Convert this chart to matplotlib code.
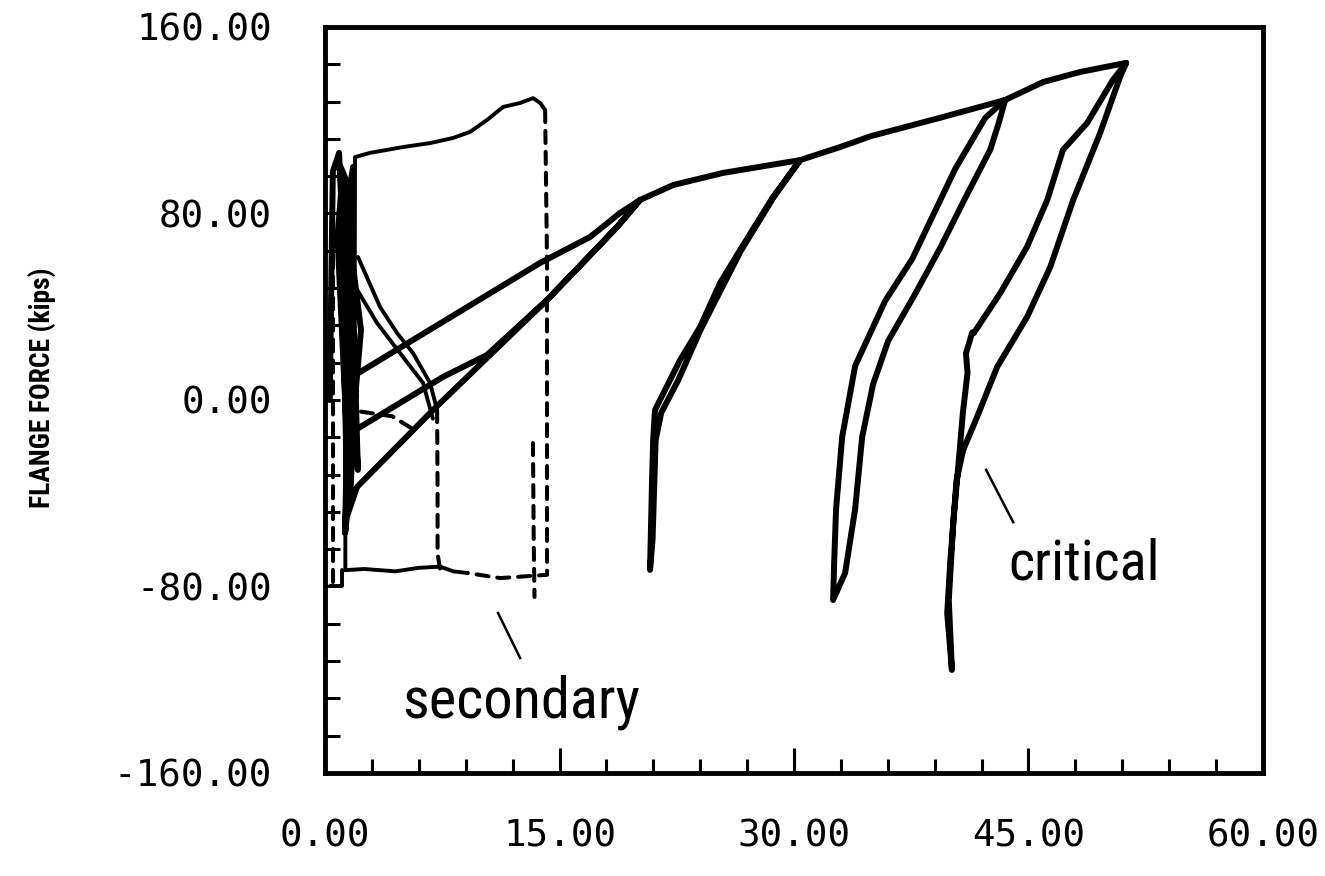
import matplotlib
matplotlib.use("Agg")
import matplotlib.pyplot as plt
from matplotlib.ticker import MultipleLocator
from matplotlib import font_manager
from matplotlib.font_manager import FontProperties

# ---------------- data ----------------
x_ticks = [0, 15, 30, 45, 60]
x_tick_labels = ["0.00", "15.00", "30.00", "45.00", "60.00"]
y_ticks = [-160, -80, 0, 80, 160]
y_tick_labels = ["-160.00", "-80.00", "0.00", "80.00", "160.00"]
y_label = "FLANGE FORCE (kips)"

# critical element (thick solid curve)
crit_x = [0.3, 0.5, 0.9, 1.2, 1.5, 1.28, 1.7, 1.3, 1.8, 1.5, 2.1, 1.6, 1.0, 1.4, 2.3, 1.1, 0.8, 1.6, 1.92,
          13.76, 16.95, 18.87, 20.15,
          18.68, 15.87, 14.2, 6.91, 2.05, 1.4, 1.28,
          1.41, 7.55, 10.36, 14.2, 15.87, 18.68, 20.15,
          22.27, 25.46, 30.39,
          28.66, 26.55, 25.27, 23.99, 22.71, 21.43, 21.11, 20.99, 20.92, 20.79,
          20.95, 21.15, 21.5, 22.6, 24.05, 26.6, 28.7, 30.39,
          32.95, 34.93, 39.54, 43.51,
          43.06, 42.55, 40.95, 39.35, 37.75, 36.02, 35.06, 34.36, 33.91, 33.27, 32.5,
          32.57, 32.69, 33.08, 33.91, 35.83, 37.56, 40.31, 42.23, 43.51,
          45.94, 48.3, 51.25,
          50.86, 49.58, 47.86, 46.39, 44.91, 42.99, 41.71, 40.82, 40.4, 39.99, 39.8, 40.1,
          39.9, 40.2, 40.6, 40.8, 41.1, 41.0, 41.4, 41.5, 43.2, 44.9, 46.2, 47.2, 48.75, 50.4, 51.25]
crit_y = [0.0, 98.0, 106.0, 60.0, -20.0, -57.0, -10.0, 80.0, 100.0, 45.0, -30.0, 90.0, 100.0, -40.0, 30.0, 95.0, 70.0, -45.0, 10.7,
          58.8, 69.9, 80.2, 85.8,
          74.2, 54.5, 42.9, -4.3, -37.3, -50.0, -57.0,
          -15.0, 9.9, 19.3, 42.9, 54.5, 74.2, 85.8,
          92.2, 97.4, 102.9,
          87.1, 64.3, 50.2, 31.3, 17.1, 0.0, -4.3, -17.2, -34.3, -72.9,
          -60.1, -17.2, -5.6, 8.6, 30.5, 64.0, 87.0, 102.9,
          108.5, 113.2, 121.4, 128.7,
          118.0, 107.3, 86.6, 65.2, 45.5, 25.3, 6.8, -15.9, -46.8, -74.2, -85.8,
          -69.5, -46.8, -15.9, 14.6, 42.5, 60.5, 99.1, 121.0, 128.7,
          136.4, 140.7, 144.6,
          138.6, 114.5, 85.8, 57.0, 35.6, 14.1, -7.3, -21.5, -34.3, -69.9, -91.4, -115.8,
          -85.8, -51.5, -21.5, -5.6, 11.6, 20.0, 29.0, 28.7, 45.9, 65.6, 85.8, 107.2, 118.8, 137.3, 144.6]

# secondary element: solid (thin) portions
sec_top_x = [1.3, 1.3, 1.6, 1.9, 1.92, 2.88, 4.99, 6.72, 8.19, 9.28, 10.36, 11.39, 12.48, 13.31, 13.76, 14.08]
sec_top_y = [-73.0, -50.0, 0.0, 50.0, 104.2, 106.0, 108.5, 110.2, 112.4, 115.0, 120.1, 125.7, 127.4, 129.5, 127.4, 124.4]
sec_bottom_x = [1.3, 2.5, 4.5, 6.0, 7.36, 8.2, 9.1]
sec_bottom_y = [-73.0, -72.5, -73.5, -72.0, -71.5, -73.5, -74.2]
sec_desc1_x = [2.11, 3.52, 4.61, 5.63, 6.72, 7.17]
sec_desc1_y = [61.3, 39.9, 28.7, 20.1, 7.3, -4.3]
sec_desc2_x = [1.28, 1.79, 3.33, 4.8, 6.27, 6.9]
sec_desc2_y = [64.3, 50.2, 33.0, 20.1, 7.3, -8.0]
sec_step_x = [0.3, 1.1, 1.1]
sec_step_y = [-80.0, -80.0, -73.0]

# secondary element: dashed portions
sec_dash_a_x = [14.08, 14.2, 14.2, 14.2, 11.2, 9.1]
sec_dash_a_y = [124.4, 60.0, -20.0, -75.0, -76.4, -74.2]
sec_dash_b_x = [7.17, 7.2, 7.2, 7.36]
sec_dash_b_y = [-4.3, -40.0, -66.0, -72.5]
sec_dash_c_x = [13.3, 13.35, 13.4]
sec_dash_c_y = [-18.5, -60.0, -84.5]
sec_dash_d_x = [0.5, 0.5, 0.5]
sec_dash_d_y = [-78.0, 10.0, 100.0]
sec_dash_e_x = [2.3, 4.3, 5.5]
sec_dash_e_y = [-5.0, -7.0, -12.0]

# annotations
labels = ["secondary", "critical"]
label_pos = [(4.93, -136.0), (43.7, -77.2)]
pointer_x = [[11.07, 12.48], [42.29, 44.02]]
pointer_y = [[-91.4, -110.7], [-30.0, -52.4]]


# ---------------- fonts ----------------
def condensed_font(bold):
    want = 700 if bold else 400
    best, best_score = None, None
    for f in font_manager.fontManager.ttflist:
        nm = f.name
        st = str(f.stretch)
        cond = ("Narrow" in nm) or ("Condensed" in nm) or st in (
            "condensed", "semi-condensed", "extra-condensed", "ultra-condensed")
        if not cond or f.style != "normal":
            continue
        w = f.weight if isinstance(f.weight, int) else font_manager.weight_dict.get(f.weight, 400)
        pri = 0 if "Liberation" in nm else (1 if "Roboto" in nm else 2)
        score = (abs(w - want), pri)
        if best_score is None or score < best_score:
            best, best_score = f, score
    if best is None:
        return FontProperties(family="DejaVu Sans", weight="bold" if bold else "normal")
    return FontProperties(fname=best.fname)


fp_reg = condensed_font(False)
fp_bold = condensed_font(True)
mono = "DejaVu Sans Mono"

# ---------------- figure ----------------
fig = plt.figure(figsize=(13.25, 8.76), dpi=100)
ax = fig.add_axes([0.2453, 0.1176, 0.7079, 0.8516])

ax.plot(crit_x, crit_y, color="black", lw=4.3, solid_joinstyle="round", solid_capstyle="round")

for xs, ys in [(sec_top_x, sec_top_y), (sec_bottom_x, sec_bottom_y),
               (sec_desc1_x, sec_desc1_y), (sec_desc2_x, sec_desc2_y),
               (sec_step_x, sec_step_y)]:
    ax.plot(xs, ys, color="black", lw=2.8, solid_joinstyle="round", solid_capstyle="round")

for xs, ys in [(sec_dash_a_x, sec_dash_a_y), (sec_dash_b_x, sec_dash_b_y),
               (sec_dash_c_x, sec_dash_c_y), (sec_dash_d_x, sec_dash_d_y),
               (sec_dash_e_x, sec_dash_e_y)]:
    ax.plot(xs, ys, color="black", lw=2.9, linestyle=(0, (3.0, 2.2)), dash_capstyle="round")

texts = []
for txt, (tx, ty), px, py in zip(labels, label_pos, pointer_x, pointer_y):
    t = ax.text(tx, ty, txt, fontproperties=fp_reg, va="baseline", ha="left")
    t.set_fontsize(40)
    texts.append(t)
    ax.plot(px, py, color="black", lw=1.8)

ax.set_xlim(0, 60)
ax.set_ylim(-160, 160)

for s in ax.spines.values():
    s.set_linewidth(3.5)

ax.set_xticks(x_ticks)
ax.set_xticklabels(x_tick_labels, fontfamily=mono, fontsize=27)
ax.set_yticks(y_ticks)
ax.set_yticklabels(y_tick_labels, fontfamily=mono, fontsize=27)
ax.xaxis.set_minor_locator(MultipleLocator(3))
ax.yaxis.set_minor_locator(MultipleLocator(16))

ax.tick_params(axis="x", which="major", direction="in", length=18, width=2.2, pad=33,
               top=False, bottom=True)
ax.tick_params(axis="x", which="minor", direction="in", length=10, width=2.2,
               top=False, bottom=True)
ax.tick_params(axis="y", which="both", direction="in", length=11, width=2.2, pad=38,
               left=True, right=False)

ylab = fig.text(0.0317, 0.557, y_label, rotation=90, fontproperties=fp_bold,
                ha="center", va="center")
ylab.set_fontsize(20)

# scale annotation fonts to the widths seen in the reference
fig.canvas.draw()
renderer = fig.canvas.get_renderer()
for t, target in zip(texts, [238.0, 152.0]):
    w = t.get_window_extent(renderer).width
    t.set_fontsize(t.get_fontsize() * target / w)
h = ylab.get_window_extent(renderer).height
ylab.set_fontsize(ylab.get_fontsize() * 240.0 / h)

fig.savefig("out.png", dpi=100)
